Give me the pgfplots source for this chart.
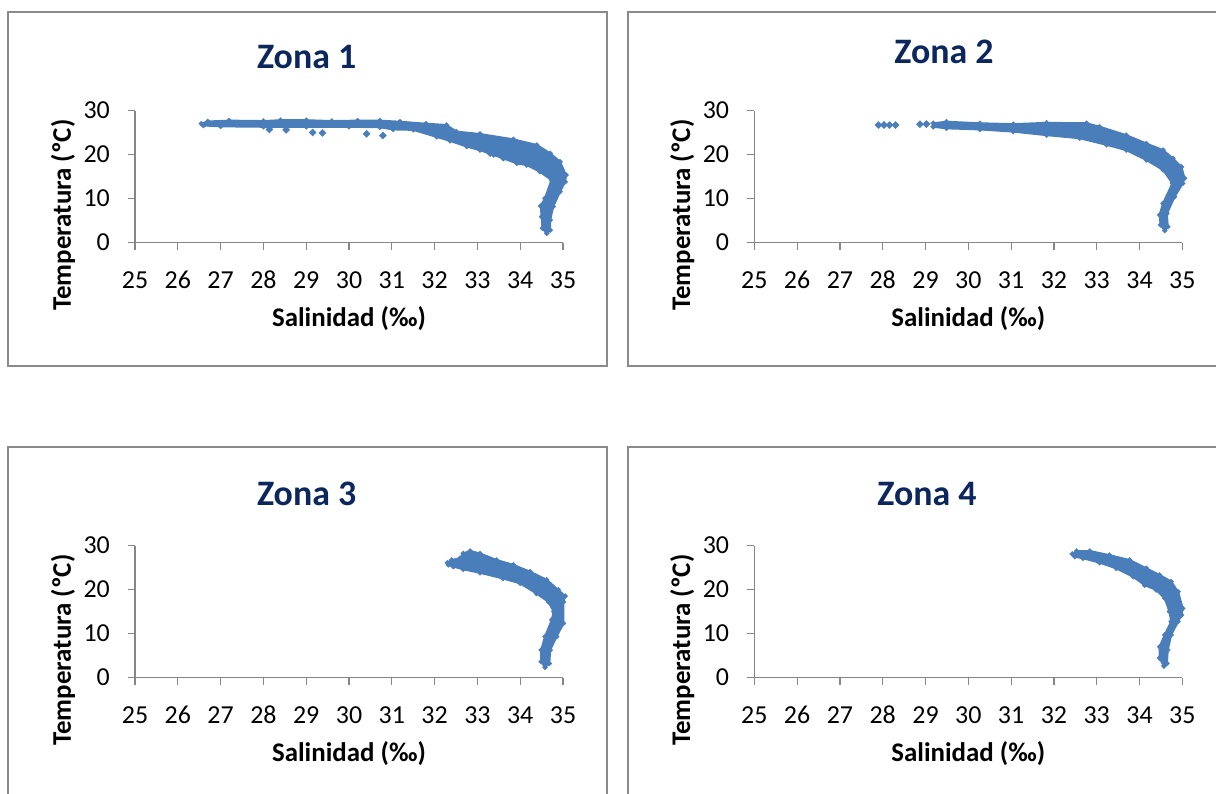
\documentclass[border=0pt]{standalone}
\usepackage{fontspec}
\setmainfont{Carlito}
\usepackage{pgfplots}
\usepackage{pgfplotstable}
\pgfplotsset{compat=1.18}
\definecolor{pt}{HTML}{4A7EBB}
\definecolor{ax}{HTML}{868686}
\definecolor{frm}{HTML}{8A8A8A}
\definecolor{ttl}{HTML}{0B275E}

\pgfplotstableread{
x y
26.55 27.0
26.7 27.5
27.2 27.7
28.0 27.6
28.4 27.8
29.0 27.8
29.6 27.6
30.2 27.7
30.72 27.7
31.19 27.45
31.8 27.0
32.28 26.7
32.51 25.2
33.06 24.66
33.84 23.45
34.39 22.16
34.70 20.27
34.93 18.36
35.07 15.34
35.05 13.8
34.93 11.55
34.77 8.14
34.70 5.1
34.70 2.84
34.62 2.09
34.52 3.23
34.50 5.86
34.48 8.3
34.58 10.05
34.73 14.2
34.46 16.1
34.15 17.6
33.92 18.0
33.61 19.1
33.38 19.9
33.06 21.0
32.75 21.8
32.36 23.1
32.05 24.0
31.50 25.6
31.03 25.7
30.72 26.2
30.0 26.3
29.0 26.3
28.0 26.3
27.0 26.4
26.6 26.6
}\zonaA
\pgfplotstableread{
x y
28.14 25.7
28.53 25.6
29.15 25.0
29.38 24.9
30.41 24.7
30.79 24.3
33.3 20.3
33.6 19.4
}\zonaAout

\pgfplotstableread{
x y
29.18 27.1
29.49 27.45
30.27 27.1
31.05 26.9
31.83 27.2
32.76 27.1
33.07 26.3
33.69 24.4
34.16 22.5
34.55 21.0
34.78 19.1
34.98 17.2
35.05 14.6
35.01 13.45
34.82 10.4
34.64 6.6
34.66 3.6
34.59 2.7
34.49 4.0
34.47 6.25
34.55 8.9
34.77 13.45
34.55 16.5
34.16 18.75
33.69 21.0
33.23 22.2
32.60 23.7
31.83 24.4
31.05 25.2
30.27 25.7
29.49 25.95
29.18 26.3
}\zonaB
\pgfplotstableread{
x y
27.90 26.7
28.03 26.7
28.16 26.7
28.30 26.7
28.87 26.9
29.02 26.9
}\zonaBout

\pgfplotstableread{
x y
32.30 26.1
32.40 26.7
32.59 27.1
32.67 28.2
32.83 28.75
33.06 28.2
33.45 26.7
33.84 25.6
34.23 24.05
34.62 22.2
34.89 19.9
35.05 18.5
35.01 17.2
35.01 12.3
34.85 9.3
34.70 6.25
34.68 3.2
34.58 2.3
34.49 3.6
34.49 6.25
34.58 9.3
34.74 13.1
34.78 15.0
34.66 17.2
34.38 19.1
34.00 21.4
33.60 22.5
33.06 23.8
32.67 24.6
32.44 25.2
32.32 25.6
}\zonaC

\pgfplotstableread{
x y
32.43 28.07
32.53 28.75
32.84 28.75
33.30 27.8
33.77 26.7
34.16 24.8
34.47 23.3
34.74 21.8
34.90 19.5
35.01 15.7
34.98 14.2
34.90 12.7
34.74 9.7
34.66 6.25
34.64 3.2
34.57 2.6
34.47 4.4
34.47 7.0
34.59 9.7
34.74 12.7
34.70 15.0
34.59 18.0
34.39 19.9
34.12 21.0
33.85 22.9
33.46 24.8
33.07 26.1
32.68 27.1
32.49 27.45
}\zonaD

\pgfplotsset{
  zona/.style={
    scale only axis, width=428bp, height=132bp,
    anchor=south west,
    xmin=25, xmax=35, ymin=0, ymax=30,
    xtick={25,26,...,35}, ytick={0,10,20,30},
    axis lines=left,
    axis line style={-, draw=ax, line width=1.3bp},
    tick style={draw=ax, line width=1.2bp},
    tick align=outside, major tick length=7bp,
    clip=false,
    /pgf/number format/assume math mode=true,
    tick label style={font=\fontsize{26}{26}\selectfont, inner sep=0pt},
    xticklabel style={anchor=base, yshift=-38.8bp},
    yticklabel style={anchor=east, xshift=-18bp},
    xlabel={Salinidad (‰)}, ylabel={Temperatura (ºC)},
    label style={font=\bfseries\fontsize{27}{27}\selectfont, inner sep=0pt},
    xlabel style={at={(axis description cs:0.5,-0.5795)}, anchor=center},
    ylabel style={at={(axis description cs:-0.1682,0.2083)}, anchor=center},
    title style={font=\bfseries\fontsize{36}{36}\selectfont, text=ttl, anchor=center, yshift=0pt, inner sep=0pt},
  },
  band/.style={draw=pt, fill=pt, line width=2bp, line join=round, mark=none},
  pts/.style={only marks, mark=square*, mark size=2.5bp, color=pt, mark options={draw=pt, fill=pt, rotate=45}},
}

\begin{document}
\begin{tikzpicture}
\useasboundingbox (0,0) rectangle (1216bp,-794bp);
\clip (0,0) rectangle (1216bp,-794bp);
\draw[frm, line width=1.5bp] (8bp,-12bp) rectangle (607bp,-366bp);
\draw[frm, line width=1.5bp] (628bp,-12bp) rectangle (1230bp,-366bp);
\draw[frm, line width=1.5bp] (8bp,-447bp) rectangle (607bp,-810bp);
\draw[frm, line width=1.5bp] (628bp,-447bp) rectangle (1230bp,-810bp);

\begin{axis}[zona, at={(135bp,-242.5bp)}, title={Zona 1},
  title style={at={(axis description cs:0.401,1.36)}}]
\addplot[band] table {\zonaA} -- cycle;
\addplot[pts, mark size=1.8bp] table {\zonaA};
\addplot[pts] table {\zonaAout};
\end{axis}

\begin{axis}[zona, at={(754.3bp,-242.5bp)}, title={Zona 2},
  title style={at={(axis description cs:0.443,1.398)}}]
\addplot[band] table {\zonaB} -- cycle;
\addplot[pts, mark size=1.8bp] table {\zonaB};
\addplot[pts] table {\zonaBout};
\end{axis}

\begin{axis}[zona, at={(135bp,-677.5bp)}, title={Zona 3},
  title style={at={(axis description cs:0.401,1.345)}}]
\addplot[band] table {\zonaC} -- cycle;
\addplot[pts, mark size=1.8bp] table {\zonaC};
\end{axis}

\begin{axis}[zona, at={(754.3bp,-677.5bp)}, title={Zona 4},
  title style={at={(axis description cs:0.4035,1.345)}}]
\addplot[band] table {\zonaD} -- cycle;
\addplot[pts, mark size=1.8bp] table {\zonaD};
\end{axis}
\end{tikzpicture}
\end{document}
